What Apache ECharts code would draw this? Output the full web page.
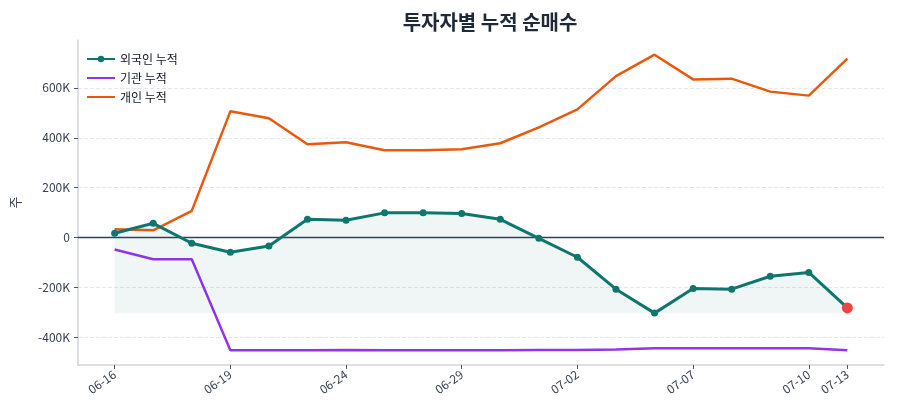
<!DOCTYPE html>
<html><head><meta charset="utf-8">
<script src="https://cdn.jsdelivr.net/npm/echarts@6/dist/echarts.min.js"></script>
<style>html,body{margin:0;padding:0;background:#fff}#c{width:900px;height:420px}</style>
</head><body><div id="c"></div>
<script>
const dates = ['06-16','06-17','06-18','06-19','06-20','06-23','06-24','06-25','06-26','06-29','06-30','07-01','07-02','07-03','07-06','07-07','07-08','07-09','07-10','07-13'];
const foreign = [17000,57000,-23000,-59000,-34000,73000,69000,99000,99000,96000,73000,-3000,-79000,-207000,-303000,-204000,-207000,-155000,-140000,-282000];
const institution = [-48000,-87000,-87000,-452000,-452000,-452000,-451000,-452000,-452000,-452000,-452000,-451000,-451000,-449000,-444000,-444000,-444000,-444000,-444000,-452000];
const individual = [33000,29000,107000,506000,478000,374000,382000,350000,350000,354000,378000,442000,514000,647000,733000,634000,637000,585000,569000,717000];
const xTickIdx = [0,3,6,9,12,15,18,19];
const yTicks = [-400000,-200000,0,200000,400000,600000];

const font = '"Noto Sans CJK KR","Noto Sans",sans-serif';
const chart = echarts.init(document.getElementById('c'));
const lastIdx = foreign.length-1;
const foreignData = foreign.map((v,i)=> i===lastIdx
  ? {value:[i,v],symbolSize:11,itemStyle:{color:'#ef4444'}}
  : [i,v]);
const pairs = arr => arr.map((v,i)=>[i,v]);
const noSym = {color:'rgba(0,0,0,0)',opacity:0,borderWidth:0};
chart.setOption({
  animation:false,
  textStyle:{fontFamily:font},
  title:{text:'투자자별 누적 순매수',left:485,top:7,textAlign:'center',
    textStyle:{fontFamily:font,fontSize:20,fontWeight:'bold',color:'#1f2937'}},
  legend:{orient:'vertical',left:81,top:48,itemWidth:28,itemHeight:8,itemGap:7,
    textStyle:{fontFamily:font,fontSize:12,color:'#111827'},
    data:[{name:'외국인 누적'},{name:'기관 누적',itemStyle:noSym},{name:'개인 누적',itemStyle:noSym}]},
  grid:{left:78,right:16,top:40,bottom:55},
  xAxis:{type:'value',min:-0.95,max:lastIdx+0.95,
    axisLine:{onZero:false,lineStyle:{color:'#d1d5db',width:1.5}},
    axisTick:{show:true,length:4,customValues:xTickIdx,lineStyle:{color:'#4b5563'}},
    axisLabel:{customValues:xTickIdx,rotate:35,fontSize:12,color:'#374151',fontFamily:font,margin:8,
      formatter:v=>dates[Math.round(v)]},
    splitLine:{show:false}},
  yAxis:{type:'value',min:-511000,max:792000,name:'주',nameLocation:'middle',nameGap:56,nameRotate:90,
    nameTextStyle:{fontSize:13,color:'#374151',fontFamily:font},
    axisLine:{show:true,onZero:false,lineStyle:{color:'#d1d5db',width:1.5}},
    axisTick:{show:true,length:4,customValues:yTicks,lineStyle:{color:'#4b5563'}},
    axisLabel:{customValues:yTicks,fontSize:12,color:'#374151',fontFamily:font,
      formatter:v=>v===0?'0':(v/1000)+'K'},
    splitLine:{show:true,lineStyle:{color:'#e5e7eb',type:'dashed'}}},
  series:[
    {name:'외국인 누적',type:'line',data:foreignData,symbol:'circle',symbolSize:7,z:5,
      itemStyle:{color:'#0f766e'},lineStyle:{color:'#0f766e',width:3},
      areaStyle:{color:'rgba(15,118,110,0.09)',origin:Math.min(...foreign)},
      markLine:{silent:true,symbol:'none',label:{show:false},
        lineStyle:{color:'#334155',width:1.3,type:'solid'},data:[{yAxis:0}]}},
    {name:'기관 누적',type:'line',data:pairs(institution),symbol:'none',z:3,
      itemStyle:{color:'#9333ea'},lineStyle:{color:'#9333ea',width:2.5}},
    {name:'개인 누적',type:'line',data:pairs(individual),symbol:'none',z:3,
      itemStyle:{color:'#ea580c'},lineStyle:{color:'#ea580c',width:2.5}}
  ]
});
</script></body></html>
